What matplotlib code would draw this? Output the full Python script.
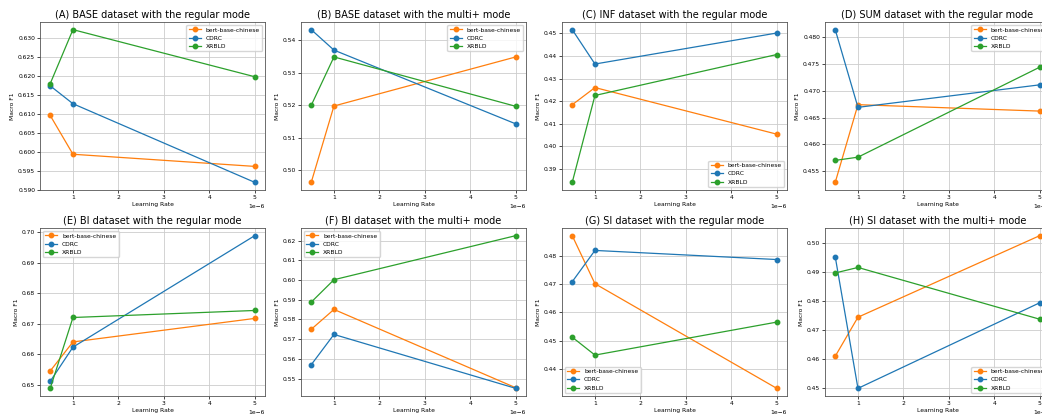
"""Recreate the learning-rate vs Macro F1 comparison grid (eight panels)."""

from __future__ import annotations

import matplotlib

matplotlib.use("Agg")
import matplotlib.pyplot as plt

LEARNING_RATES = [0.5e-6, 1e-6, 5e-6]
MODELS = ["bert-base-chinese", "CDRC", "XRBLD"]

TITLES = [
    "(A) BASE dataset with the regular mode",
    "(B) BASE dataset with the multi+ mode",
    "(C) INF dataset with the regular mode",
    "(D) SUM dataset with the regular mode",
    "(E) BI dataset with the regular mode",
    "(F) BI dataset with the multi+ mode",
    "(G) SI dataset with the regular mode",
    "(H) SI dataset with the multi+ mode",
]

# Macro F1 per panel, one list per model (bert, CDRC, XRBLD).
BERT_F1 = [
    [0.6096, 0.5994, 0.5962],
    [0.4963, 0.5198, 0.5349],
    [0.4184, 0.4260, 0.4054],
    [0.4529, 0.4674, 0.4662],
    [0.6545, 0.6640, 0.6717],
    [0.5750, 0.5851, 0.5453],
    [0.4870, 0.4701, 0.4333],
    [0.4610, 0.4745, 0.5027],
]
CDRC_F1 = [
    [0.6174, 0.6127, 0.5920],
    [0.5433, 0.5370, 0.5143],
    [0.4516, 0.4364, 0.4501],
    [0.4814, 0.4669, 0.4711],
    [0.6511, 0.6623, 0.6988],
    [0.5570, 0.5724, 0.5450],
    [0.4708, 0.4818, 0.4786],
    [0.4954, 0.4499, 0.4795],
]
XRBLD_F1 = [
    [0.6180, 0.6322, 0.6198],
    [0.5200, 0.5349, 0.5197],
    [0.3841, 0.4225, 0.4406],
    [0.4570, 0.4576, 0.4744],
    [0.6488, 0.6720, 0.6743],
    [0.5888, 0.6002, 0.6226],
    [0.4513, 0.4450, 0.4566],
    [0.4898, 0.4917, 0.4738],
]
LEGEND_LOCS = [
    "upper right", "upper right", "lower right", "upper right",
    "upper left", "upper left", "lower left", "lower right",
]

COLORS = ["#ff7f0e", "#1f77b4", "#2ca02c"]

FIG_W, FIG_H = 1042, 417
# left edge of each column and top edge of each row, in pixels
COL_LEFT = [40, 301, 562, 825]
ROW_TOP = [22, 228]
AX_W, AX_H = 225, 168


def main() -> None:
    plt.rcParams.update({
        "font.size": 4.3,
        "axes.titlesize": 7.0,
        "axes.linewidth": 0.6,
        "axes.edgecolor": "#555555",
        "xtick.major.size": 2.0,
        "ytick.major.size": 2.0,
        "xtick.major.width": 0.5,
        "ytick.major.width": 0.5,
        "grid.linewidth": 0.6,
        "grid.color": "#cccccc",
    })
    fig = plt.figure(figsize=(FIG_W / 100, FIG_H / 100), dpi=100)

    for idx, title in enumerate(TITLES):
        row, col = divmod(idx, 4)
        left = COL_LEFT[col] / FIG_W
        bottom = 1 - (ROW_TOP[row] + AX_H) / FIG_H
        axis = fig.add_axes([left, bottom, AX_W / FIG_W, AX_H / FIG_H])
        series = [BERT_F1[idx], CDRC_F1[idx], XRBLD_F1[idx]]
        for name, values, color in zip(MODELS, series, COLORS):
            axis.plot(LEARNING_RATES, values, marker="o", markersize=3.2,
                      linewidth=0.9, color=color, label=name)
        axis.set_title(title, pad=3)
        axis.set_xlabel("Learning Rate", labelpad=1.5)
        axis.set_ylabel("Macro F1", labelpad=2)
        axis.tick_params(pad=1.5)
        axis.grid(True)
        axis.legend(loc=LEGEND_LOCS[idx], fontsize=4.3, framealpha=0.8)

    fig.savefig("out.png", dpi=100)
    plt.close(fig)


if __name__ == "__main__":
    main()
